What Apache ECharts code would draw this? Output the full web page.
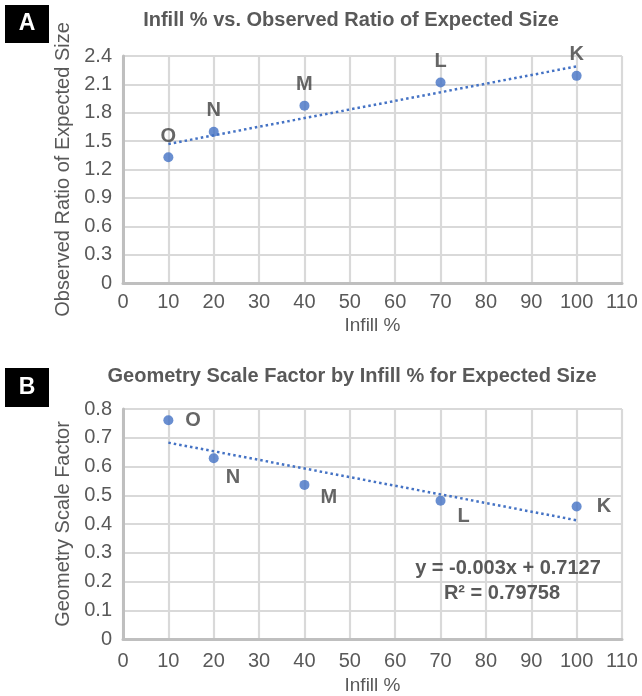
<!DOCTYPE html>
<html>
<head>
<meta charset="utf-8">
<script src="https://cdn.jsdelivr.net/npm/echarts@6/dist/echarts.min.js"></script>
<style>
html,body{margin:0;padding:0;background:#fff;}
#chart{width:642px;height:696px;}
</style>
</head>
<body>
<div id="chart"></div>
<script>
// ---- data ----
const pointNames = ['O', 'N', 'M', 'L', 'K'];
const infill = [10, 20, 40, 70, 100];
const ratioA = [1.33, 1.60, 1.875, 2.12, 2.19];
const scaleB = [0.761, 0.629, 0.536, 0.481, 0.461];
const trendX = [10, 100];
const trendA = [1.47, 2.29];
const trendB = [0.683, 0.413];
const titleA = 'Infill % vs. Observed Ratio of Expected Size';
const titleB = 'Geometry Scale Factor by Infill % for Expected Size';
const yNameA = 'Observed Ratio of Expected Size';
const yNameB = 'Geometry Scale Factor';
const xName = 'Infill %';
const equationLines = ['y = -0.003x + 0.7127', 'R\u00B2 = 0.79758'];
const panelLetters = ['A', 'B'];

// ---- styling ----
const FONT = '"Liberation Sans", Arial, sans-serif';
const BLUE = '#4472C4';
const GRID = '#d9d9d9';
const AXIS = '#bfbfbf';
const TXT = '#595959';
const LBL = '#404040';

// label placement for panel B points (by index)
const bLabelOffsets = [[7, 0], [2, 19], [6, 13], [7, 16], [10, 0]];

function pts(xs, ys) { return xs.map((x, i) => [x, ys[i]]); }

function xAxisCfg(gridIndex, margin, gap) {
  return {
    gridIndex, type: 'value', min: 0, max: 110, interval: 10,
    name: xName, nameLocation: 'middle', nameGap: gap,
    nameTextStyle: { fontFamily: FONT, fontSize: 19, color: TXT },
    axisLine: { show: true, onZero: false, lineStyle: { color: AXIS, width: 3 } },
    axisTick: { show: false },
    axisLabel: { fontFamily: FONT, fontSize: 20, color: TXT, margin },
    splitLine: { show: true, lineStyle: { color: GRID, width: 2.2 } }
  };
}
function yAxisCfg(gridIndex, max, interval, name) {
  return {
    gridIndex, type: 'value', min: 0, max, interval,
    name, nameLocation: 'middle', nameGap: 45, nameRotate: 90,
    nameTextStyle: { fontFamily: FONT, fontSize: 20, color: TXT },
    axisLine: { show: true, lineStyle: { color: AXIS, width: 3 } },
    axisTick: { show: false },
    axisLabel: { fontFamily: FONT, fontSize: 20, color: TXT, margin: 11 },
    splitLine: { show: true, lineStyle: { color: GRID, width: 2.2 } }
  };
}

const labelStyle = { fontFamily: FONT, fontSize: 20, fontWeight: 'bold', color: LBL };

const option = {
  animation: false,
  backgroundColor: '#fff',
  grid: [
    { left: 123, top: 56, width: 499, height: 227 },
    { left: 123, top: 409, width: 499, height: 231 }
  ],
  xAxis: [xAxisCfg(0, 9, 33), xAxisCfg(1, 12, 37)],
  yAxis: [yAxisCfg(0, 2.4, 0.3, yNameA), yAxisCfg(1, 0.8, 0.1, yNameB)],
  series: [
    {
      type: 'line', xAxisIndex: 0, yAxisIndex: 0,
      data: pts(trendX, trendA), symbol: 'none', silent: true, z: 2,
      lineStyle: { color: BLUE, width: 2.5, type: [2.5, 3], cap: 'butt' }
    },
    {
      type: 'scatter', xAxisIndex: 0, yAxisIndex: 0, z: 3,
      symbolSize: 10, itemStyle: { color: BLUE },
      data: infill.map((x, i) => ({ value: [x, ratioA[i]], name: pointNames[i] })),
      label: Object.assign({ show: true, position: 'top', distance: 6, formatter: p => p.name }, labelStyle)
    },
    {
      type: 'line', xAxisIndex: 1, yAxisIndex: 1,
      data: pts(trendX, trendB), symbol: 'none', silent: true, z: 2,
      lineStyle: { color: BLUE, width: 2.5, type: [2.5, 3], cap: 'butt' }
    },
    {
      type: 'scatter', xAxisIndex: 1, yAxisIndex: 1, z: 3,
      symbolSize: 10, itemStyle: { color: BLUE },
      data: infill.map((x, i) => ({
        value: [x, scaleB[i]], name: pointNames[i],
        label: { offset: bLabelOffsets[i] }
      })),
      label: Object.assign({ show: true, position: 'right', distance: 5, formatter: p => p.name }, labelStyle)
    }
  ],
  graphic: [
    { type: 'rect', shape: { x: 5, y: 5, width: 44, height: 38 }, style: { fill: '#000' } },
    { type: 'text', x: 27, y: 24, style: { text: panelLetters[0], fill: '#fff', font: 'bold 23px ' + FONT, textAlign: 'center', textVerticalAlign: 'middle' } },
    { type: 'rect', shape: { x: 5, y: 368, width: 44, height: 39 }, style: { fill: '#000' } },
    { type: 'text', x: 27, y: 388, style: { text: panelLetters[1], fill: '#fff', font: 'bold 23px ' + FONT, textAlign: 'center', textVerticalAlign: 'middle' } },
    { type: 'text', x: 351, y: 20, style: { text: titleA, fill: TXT, font: 'bold 20px ' + FONT, textAlign: 'center', textVerticalAlign: 'middle' } },
    { type: 'text', x: 352, y: 376, style: { text: titleB, fill: TXT, font: 'bold 20px ' + FONT, textAlign: 'center', textVerticalAlign: 'middle' } },
    { type: 'text', x: 508, y: 568, z: 10, style: { text: equationLines[0], fill: TXT, font: 'bold 20px ' + FONT, textAlign: 'center', textVerticalAlign: 'middle' } },
    { type: 'text', x: 502, y: 593, z: 10, style: { text: equationLines[1], fill: TXT, font: 'bold 20px ' + FONT, textAlign: 'center', textVerticalAlign: 'middle' } }
  ]
};

const chart = echarts.init(document.getElementById('chart'), null, { renderer: 'canvas' });
chart.setOption(option);
</script>
</body>
</html>
